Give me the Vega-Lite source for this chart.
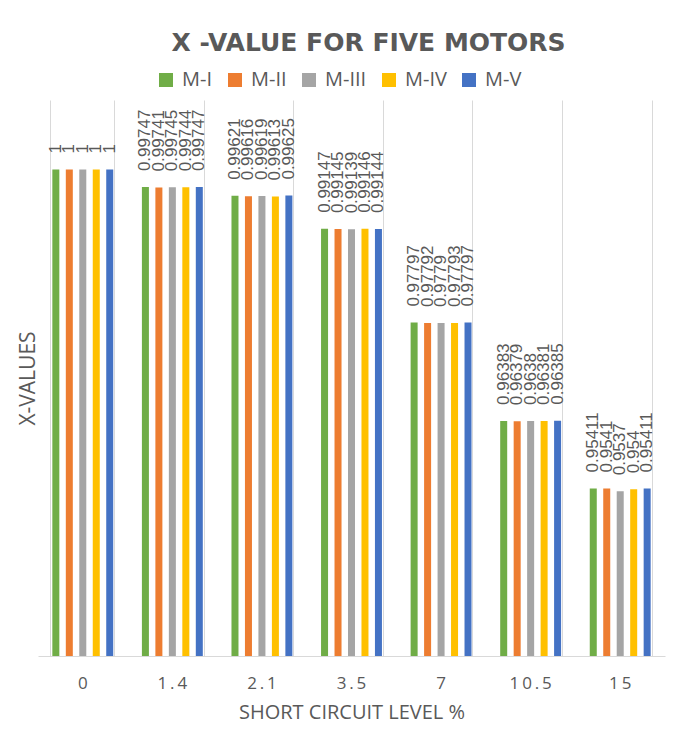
{
  "$schema": "https://vega.github.io/schema/vega-lite/v6.json",
  "width": 627,
  "height": 556,
  "autosize": "none",
  "padding": {"left": 38, "top": 100, "right": 13, "bottom": 84},
  "background": "white",
  "title": {
    "text": "X -VALUE FOR FIVE MOTORS",
    "font": "DejaVu Sans",
    "fontSize": 25,
    "fontWeight": "bold",
    "color": "#595959",
    "anchor": "middle",
    "offset": 14,
    "dx": 17
  },
  "data": {
    "values": [
      {"level": "0", "motor": "M-I", "x": 1},
      {"level": "0", "motor": "M-II", "x": 1},
      {"level": "0", "motor": "M-III", "x": 1},
      {"level": "0", "motor": "M-IV", "x": 1},
      {"level": "0", "motor": "M-V", "x": 1},
      {"level": "1.4", "motor": "M-I", "x": 0.99747},
      {"level": "1.4", "motor": "M-II", "x": 0.99741},
      {"level": "1.4", "motor": "M-III", "x": 0.99745},
      {"level": "1.4", "motor": "M-IV", "x": 0.99744},
      {"level": "1.4", "motor": "M-V", "x": 0.99747},
      {"level": "2.1", "motor": "M-I", "x": 0.99621},
      {"level": "2.1", "motor": "M-II", "x": 0.99616},
      {"level": "2.1", "motor": "M-III", "x": 0.99619},
      {"level": "2.1", "motor": "M-IV", "x": 0.99613},
      {"level": "2.1", "motor": "M-V", "x": 0.99625},
      {"level": "3.5", "motor": "M-I", "x": 0.99147},
      {"level": "3.5", "motor": "M-II", "x": 0.99145},
      {"level": "3.5", "motor": "M-III", "x": 0.99139},
      {"level": "3.5", "motor": "M-IV", "x": 0.99146},
      {"level": "3.5", "motor": "M-V", "x": 0.99144},
      {"level": "7", "motor": "M-I", "x": 0.97797},
      {"level": "7", "motor": "M-II", "x": 0.97792},
      {"level": "7", "motor": "M-III", "x": 0.9779},
      {"level": "7", "motor": "M-IV", "x": 0.97793},
      {"level": "7", "motor": "M-V", "x": 0.97797},
      {"level": "10.5", "motor": "M-I", "x": 0.96383},
      {"level": "10.5", "motor": "M-II", "x": 0.96379},
      {"level": "10.5", "motor": "M-III", "x": 0.9638},
      {"level": "10.5", "motor": "M-IV", "x": 0.96381},
      {"level": "10.5", "motor": "M-V", "x": 0.96385},
      {"level": "15", "motor": "M-I", "x": 0.95411},
      {"level": "15", "motor": "M-II", "x": 0.9541},
      {"level": "15", "motor": "M-III", "x": 0.9537},
      {"level": "15", "motor": "M-IV", "x": 0.954},
      {"level": "15", "motor": "M-V", "x": 0.95411}
    ]
  },
  "encoding": {
    "x": {
      "field": "level",
      "type": "nominal",
      "sort": ["0", "1.4", "2.1", "3.5", "7", "10.5", "15"],
      "scale": {"paddingInner": 0.29, "paddingOuter": 0.145},
      "axis": {
        "title": "SHORT CIRCUIT LEVEL %",
        "titleFont": "Open Sans",
        "titleFontSize": 20,
        "titleFontWeight": "normal",
        "titleColor": "#595959",
        "titlePadding": 11,
        "labelAngle": 0,
        "labelFont": "Open Sans",
        "labelFontSize": 17,
        "labelColor": "#595959",
        "labelPadding": 19,
        "labelExpr": "replace(datum.label, regexp('(.)(?=.)', 'g'), '$1\u2009')",
        "domainColor": "#D9D9D9",
        "ticks": false,
        "grid": true,
        "gridColor": "#D9D9D9",
        "bandPosition": 1,
        "tickExtra": true
      }
    },
    "xOffset": {
      "field": "motor",
      "type": "nominal",
      "sort": ["M-I", "M-II", "M-III", "M-IV", "M-V"],
      "scale": {"paddingInner": 0.48, "paddingOuter": 0.1}
    },
    "y": {
      "field": "x",
      "type": "quantitative",
      "scale": {"domain": [0.93, 1.01], "zero": false, "nice": false},
      "axis": {
        "title": "X-VALUES",
        "titleFont": "Open Sans",
        "titleFontSize": 21,
        "titleFontWeight": "normal",
        "titleColor": "#595959",
        "titlePadding": 0,
        "labels": false,
        "ticks": false,
        "domain": false,
        "grid": false
      }
    }
  },
  "layer": [
    {
      "mark": {"type": "bar", "clip": true},
      "encoding": {
        "color": {
          "field": "motor",
          "type": "nominal",
          "sort": ["M-I", "M-II", "M-III", "M-IV", "M-V"],
          "scale": {
            "domain": ["M-I", "M-II", "M-III", "M-IV", "M-V"],
            "range": ["#70AD47", "#ED7D31", "#A5A5A5", "#FFC000", "#4472C4"]
          },
          "legend": {
            "title": null,
            "orient": "none",
            "direction": "horizontal",
            "legendX": 118,
            "legendY": -30,
            "symbolType": "square",
            "symbolSize": 196,
            "symbolStrokeWidth": 0,
            "labelFont": "Open Sans",
            "labelFontSize": 20,
            "labelColor": "#595959",
            "columnPadding": 12,
            "labelOffset": 6
          }
        }
      }
    },
    {
      "mark": {
        "type": "text",
        "angle": 270,
        "align": "left",
        "baseline": "middle",
        "dx": 16,
        "font": "Liberation Sans",
        "fontSize": 17,
        "color": "#595959"
      },
      "encoding": {
        "text": {"field": "x", "type": "quantitative"}
      }
    }
  ],
  "config": {
    "view": {"stroke": null}
  }
}
